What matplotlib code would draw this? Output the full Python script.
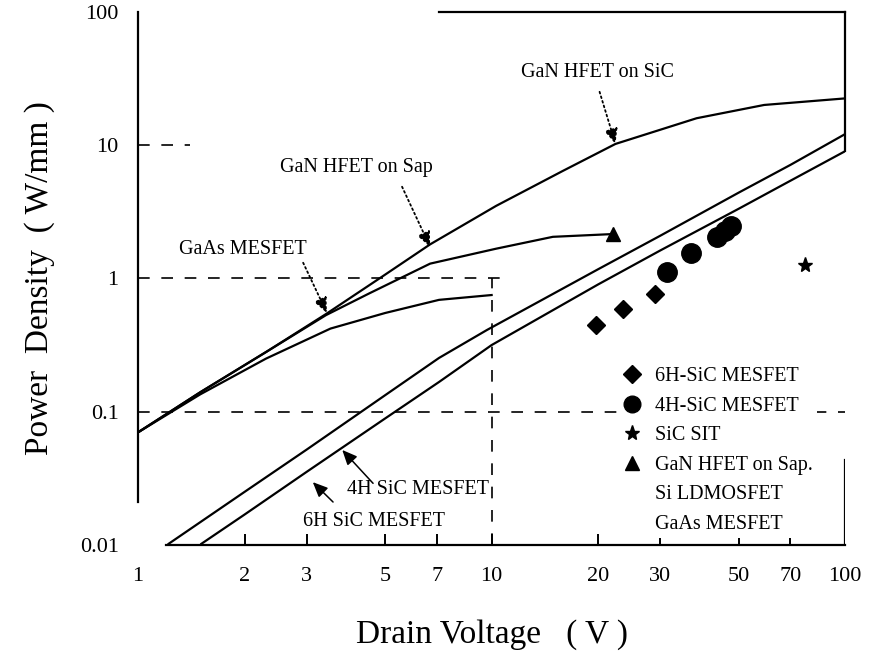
import matplotlib
matplotlib.use("Agg")
import matplotlib.pyplot as plt
from matplotlib.lines import Line2D
import numpy as np

plt.rcParams['font.family'] = ['Liberation Serif', 'DejaVu Serif']

# curves
gan_sic_v = [1, 1.5, 2.3, 3.4, 4.9, 6.7, 10.3, 15.9, 22.4, 38, 59, 100]
gan_sic_p = [0.07, 0.14, 0.28, 0.54, 1.03, 1.8, 3.5, 6.4, 10.2, 15.9, 20, 22.4]

gan_sap_v = [1, 1.5, 2.3, 3.4, 4.5, 6.7, 10.3, 14.9, 22]
gan_sap_p = [0.07, 0.14, 0.28, 0.53, 0.77, 1.29, 1.67, 2.05, 2.15]

gaas_v = [1, 1.5, 2.3, 3.5, 5, 7.1, 10]
gaas_p = [0.07, 0.135, 0.25, 0.42, 0.55, 0.69, 0.75]

sic_up_v = [1.22, 2, 3, 5, 7.1, 9.7, 20, 30, 50, 70, 100]
sic_up_p = [0.0102, 0.025, 0.052, 0.133, 0.253, 0.41, 1.17, 2.09, 4.4, 7.1, 12.1]

sic_lo_v = [1.51, 2, 3, 5, 7.1, 10, 20, 30, 50, 70, 100]
sic_lo_p = [0.0102, 0.0169, 0.0354, 0.089, 0.167, 0.316, 0.90, 1.62, 3.33, 5.4, 9.0]

# measured devices
sic6h_v = [19.7, 23.6, 29.0]
sic6h_p = [0.446, 0.587, 0.76]
sic4h_v = [31.3, 36.7, 43.3, 45.6, 47.6]
sic4h_p = [1.11, 1.56, 2.06, 2.28, 2.49]
sit_v = [76.9]
sit_p = [1.27]
sap_end_v = [22]
sap_end_p = [2.15]

xticks = [1, 2, 3, 5, 7, 10, 20, 30, 50, 70, 100]
yticks = [0.01, 0.1, 1, 10, 100]
ylabels = ['0.01', '0.1', '1', '10', '100']

fig = plt.figure(figsize=(8.74, 6.55), dpi=100)
ax = fig.add_axes([0.158, 0.168, 0.809, 0.814])
ax.set_xscale('log')
ax.set_yscale('log')
ax.set_xlim(1, 100)
ax.set_ylim(0.01, 100)

# partial dashed guide lines like the scan
ax.plot([1, 1.4], [10, 10], color='k', lw=1.2, ls=(0, (7, 7)))
ax.plot([1, 11], [1, 1], color='k', lw=1.2, ls=(0, (7, 7)))
ax.plot([1, 100], [0.1, 0.1], color='k', lw=1.2, ls=(0, (7, 7)))
ax.plot([10, 10], [0.01, 1], color='k', lw=1.2, ls=(0, (7, 7)))

lw = 1.6
ax.plot(gan_sic_v, gan_sic_p, color='k', lw=lw)
ax.plot(gan_sap_v, gan_sap_p, color='k', lw=lw)
ax.plot(gaas_v, gaas_p, color='k', lw=lw)
ax.plot(sic_up_v, sic_up_p, color='k', lw=lw)
ax.plot(sic_lo_v, sic_lo_p, color='k', lw=lw)

ax.plot(sic6h_v, sic6h_p, 'D', color='k', ms=9, ls='none')
ax.plot(sic4h_v, sic4h_p, 'o', color='k', ms=14, ls='none')
ax.plot(sit_v, sit_p, '*', color='k', ms=11, ls='none')
ax.plot(sap_end_v, sap_end_p, '^', color='k', ms=10, ls='none')

fs = 14.5
dotted = dict(arrowstyle='-|>,head_length=0.9,head_width=0.4', color='k',
              lw=1.3, ls=':', shrinkA=0, shrinkB=0)
solid = dict(arrowstyle='-|>,head_length=0.9,head_width=0.4', color='k',
             lw=1.1, shrinkA=0, shrinkB=0)

ax.text(19.9, 34.8, 'GaN HFET on SiC', fontsize=fs, ha='center', va='center')
ax.annotate('', xy=(22.4, 10.2), xytext=(20.2, 25.1), arrowprops=dotted)
ax.text(4.14, 6.75, 'GaN HFET on Sap', fontsize=fs, ha='center', va='center')
ax.annotate('', xy=(6.7, 1.72), xytext=(5.58, 4.87), arrowprops=dotted)
ax.text(1.98, 1.64, 'GaAs MESFET', fontsize=fs, ha='center', va='center')
ax.annotate('', xy=(3.42, 0.55), xytext=(2.93, 1.31), arrowprops=dotted)
ax.text(3.9, 0.026, '4H SiC MESFET', fontsize=fs, ha='left', va='center')
ax.annotate('', xy=(3.78, 0.0516), xytext=(4.62, 0.029), arrowprops=solid)
ax.text(2.93, 0.0149, '6H SiC MESFET', fontsize=fs, ha='left', va='center')
ax.annotate('', xy=(3.12, 0.0296), xytext=(3.56, 0.021), arrowprops=solid)

handles = [
    Line2D([], [], marker='D', color='k', ls='none', ms=9),
    Line2D([], [], marker='o', color='k', ls='none', ms=12),
    Line2D([], [], marker='*', color='k', ls='none', ms=11),
    Line2D([], [], marker='^', color='k', ls='none', ms=10),
    Line2D([], [], ls='none'),
    Line2D([], [], ls='none'),
]
names = ['6H-SiC MESFET', '4H-SiC MESFET', 'SiC SIT', 'GaN HFET on Sap.',
         'Si LDMOSFET', 'GaAs MESFET']
leg = ax.legend(handles, names, loc='upper left', bbox_to_anchor=(0.665, 0.36),
                fontsize=14.5, frameon=True, facecolor='white', edgecolor='none',
                framealpha=1, handlelength=1.0, handletextpad=0.6,
                labelspacing=0.52, borderpad=0.2, fancybox=False)
leg.set_zorder(5)

# broken frame like the scan
ax.spines['left'].set_bounds(0.021, 100)
ax.spines['bottom'].set_bounds(1.2, 100)
ax.spines['top'].set_bounds(7.1, 100)
ax.spines['right'].set_bounds(9, 100)
ax.axvline(100, ymin=0, ymax=0.16, color='k', lw=1.6)
for s in ax.spines.values():
    s.set_linewidth(1.6)

ax.set_xticks(xticks)
ax.set_xticklabels([str(t) for t in xticks])
ax.set_yticks(yticks)
ax.set_yticklabels(ylabels)
ax.minorticks_off()
ax.tick_params(axis='x', direction='in', length=8, width=1.4, labelsize=16, pad=16)
ax.tick_params(axis='y', length=0, labelsize=16, pad=14)
xt = ax.xaxis.get_major_ticks()
xt[0].tick1line.set_visible(False)
xt[-1].tick1line.set_visible(False)

ax.set_xlabel('Drain Voltage   ( V )', fontsize=24, labelpad=24)
ax.set_ylabel('Power  Density  ( W/mm )', fontsize=24, labelpad=18)

fig.savefig('out.png', dpi=100)
